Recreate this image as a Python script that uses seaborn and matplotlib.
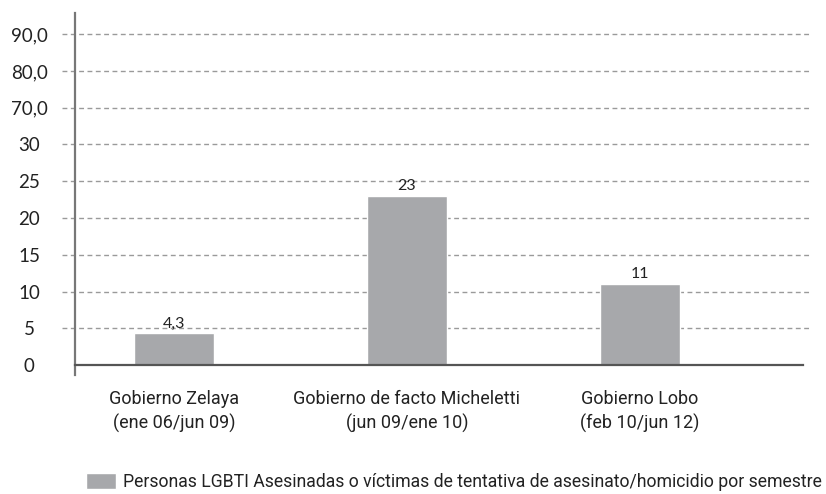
#!/usr/bin/env python3
# -*- coding: utf-8 -*-

import matplotlib
matplotlib.use('Agg')
import matplotlib.pyplot as plt
import seaborn as sns
import pandas as pd

# data
periodos = ['Gobierno Zelaya\n(ene 06/jun 09)',
            'Gobierno de facto Micheletti\n(jun 09/ene 10)',
            'Gobierno Lobo\n(feb 10/jun 12)']
valores = [4.3, 23, 11]
etiquetas = ['4,3', '23', '11']
serie = 'Personas LGBTI Asesinadas o víctimas de tentativa de asesinato/homicidio por semestre'

# broken y axis: tick positions and the labels shown on them
y_ticks = [0, 5, 10, 15, 20, 25, 30, 35, 40, 45]
y_labels = ['0', '5', '10', '15', '20', '25', '30', '70,0', '80,0', '90,0']

df = pd.DataFrame({'periodo': periodos, 'valor': valores, 'serie': serie})

sns.set_style('white')
plt.rcParams['font.family'] = ['Lato', 'DejaVu Sans']
narrow = ['Roboto', 'DejaVu Sans']

fig = plt.figure(figsize=(8.26, 4.94), dpi=100)
ax = fig.add_axes([0.0908, 0.261, 0.8814, 0.713])

sns.barplot(data=df, x='periodo', y='valor', hue='serie', palette=['#a7a8ab'],
            width=0.343, saturation=1, ax=ax, legend=True)

ax.set_xlim(-0.425, 2.70)
ax.set_ylim(0, 47.9)

# dashed grid lines, reaching a bit left of the y axis
ax.hlines(y_ticks[1:], -0.018, 1.008, transform=ax.get_yaxis_transform(),
          colors='#9a9a9a', linestyles=(0, (3.5, 2.5)), linewidth=1.0,
          clip_on=False, zorder=0)

ax.set_yticks(y_ticks)
ax.set_yticklabels(y_labels, fontsize=13.5, color='#222222', ha='center')
ax.tick_params(axis='y', length=0, pad=33)

ax.set_xticks([0, 1, 2])
ax.set_xticklabels(periodos, fontsize=13, color='#222222', family=narrow,
                   linespacing=1.4)
ax.tick_params(axis='x', length=10, width=1.6, color='#555555', direction='out',
               pad=8)
ax.set_xlabel('')
ax.set_ylabel('')

for s in ['top', 'right']:
    ax.spines[s].set_visible(False)
ax.spines['left'].set_color('#777777')
ax.spines['left'].set_linewidth(1.6)
ax.spines['left'].set_bounds(-1.3, 47.9)
ax.spines['bottom'].set_color('#555555')
ax.spines['bottom'].set_linewidth(1.6)

for i, v in enumerate(valores):
    ax.text(i, v + 0.4, etiquetas[i], ha='center', va='bottom',
            fontsize=11.5, color='#222222')

sns.move_legend(ax, loc='center left', bbox_to_anchor=(0.095, 0.0243),
                bbox_transform=fig.transFigure,
                frameon=False, title=None, handlelength=1.75, handleheight=0.95,
                handletextpad=0.35, prop={'family': narrow, 'size': 12.7},
                borderaxespad=0)
for t in ax.get_legend().get_texts():
    t.set_color('#222222')

fig.savefig('out.png', dpi=100)
